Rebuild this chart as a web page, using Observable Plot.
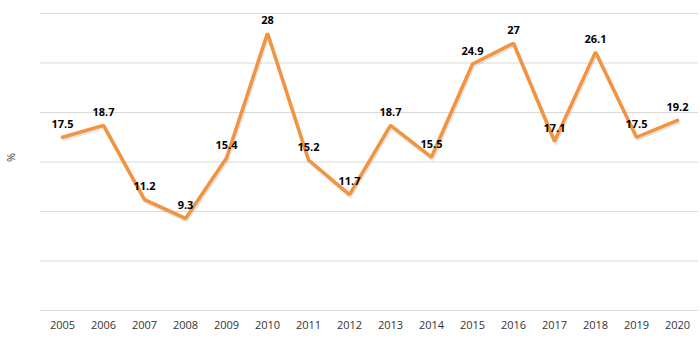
<!DOCTYPE html>
<html>
<head>
<meta charset="utf-8">
<script src="https://cdn.jsdelivr.net/npm/d3@7"></script>
<script src="https://cdn.jsdelivr.net/npm/@observablehq/plot@0.6"></script>
<style>
  html, body { margin: 0; padding: 0; background: #fff; }
</style>
</head>
<body>
<div id="chart"></div>
<script>
const years = [2005, 2006, 2007, 2008, 2009, 2010, 2011, 2012, 2013, 2014, 2015, 2016, 2017, 2018, 2019, 2020];
const values = [17.5, 18.7, 11.2, 9.3, 15.4, 28, 15.2, 11.7, 18.7, 15.5, 24.9, 27, 17.1, 26.1, 17.5, 19.2];
const gridValues = [0, 5, 10, 15, 20, 25, 30];
const yLabel = "%";

const data = years.map((y, i) => ({year: String(y), value: values[i]}));

const chart = Plot.plot({
  width: 700,
  height: 342,
  marginLeft: 40,
  marginRight: 2,
  marginTop: 13,
  marginBottom: 32,
  style: {fontFamily: "'Open Sans', 'Noto Sans', sans-serif", fontSize: "11px", background: "#fff"},
  x: {type: "point", domain: years.map(String), padding: 0.5, label: null},
  y: {domain: [0, 30], label: null, axis: null},
  marks: [
    Plot.ruleY(gridValues, {stroke: "#d9d9d9", strokeWidth: 1.2}),
    Plot.axisX({tickSize: 0, tickPadding: 11, fontSize: 11, fill: "#333", label: null}),
    Plot.line(data, {x: "year", y: "value", stroke: "#999", strokeWidth: 3.5, strokeOpacity: 0.25, dx: 1, dy: 2}),
    Plot.line(data, {x: "year", y: "value", stroke: "#f39340", strokeWidth: 3.5, strokeLinejoin: "miter"}),
    Plot.text(data, {x: "year", y: "value", text: d => String(d.value), dy: -13, fontWeight: "bold", fontSize: 11, fill: "#000"}),
    Plot.text([yLabel], {frameAnchor: "left", dx: -29, rotate: -90, fontSize: 11, fill: "#333"})
  ]
});
document.getElementById("chart").appendChild(chart);
</script>
</body>
</html>
